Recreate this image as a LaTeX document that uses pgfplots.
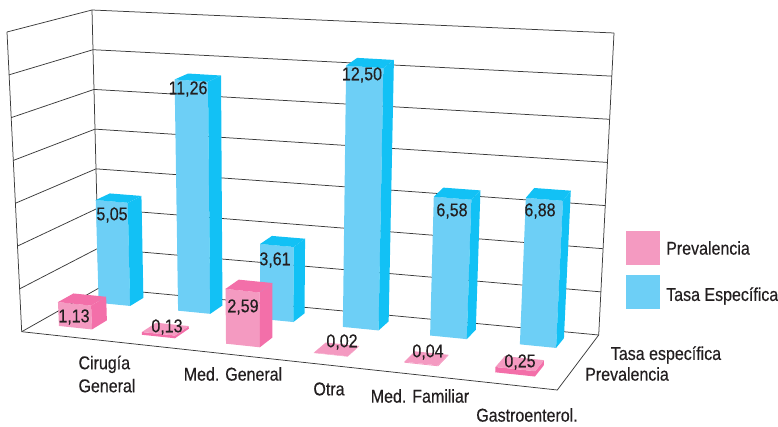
\documentclass[border=0pt]{standalone}
\usepackage{pgfplots}
\pgfplotsset{compat=1.18}
\usepackage{fontspec}
\setmainfont[FakeStretch=0.865,FakeBold=0.35]{Liberation Sans}

\definecolor{ink}{HTML}{231F20}
\definecolor{gridc}{HTML}{3A3A3A}
\definecolor{pinkF}{HTML}{F49AC1}
\definecolor{pinkD}{HTML}{F36FA9}
\definecolor{blueF}{HTML}{6DCFF6}
\definecolor{blueD}{HTML}{12C1F5}

% Box projection: u along the categories, v along the series, z is the value (0--14)
\pgfmathdeclarefunction{bil}{6}{\pgfmathparse{(1-#1)*(1-#2)*#3+#1*(1-#2)*#4+(1-#1)*#2*#5+#1*#2*#6}}
\pgfmathdeclarefunction{px}{3}{\pgfmathparse{(1-#3/14)*bil(#1,#2,21.7,557.3,99,598.7)+(#3/14)*bil(#1,#2,7,573,92,614)}}
\pgfmathdeclarefunction{py}{3}{\pgfmathparse{(1-#3/14)*bil(#1,#2,331.7,390,288,335)+(#3/14)*bil(#1,#2,32,94,10,33)}}

\pgfplotsset{
  boxed/.style={/pgfplots/table/row sep=\\,
    /pgfplots/table/x expr={px(\thisrow{u},\thisrow{v},\thisrow{z})},
    /pgfplots/table/y expr={py(\thisrow{u},\thisrow{v},\thisrow{z})}},
  face/.style={fill=#1, draw=none, forget plot, mark=none},
  rule/.style={draw=gridc, line width=0.75pt, forget plot, mark=none}
}

% #1 #2: u range, #3 #4: v range, #5: value, #6 front, #7 side, #8 top
\newcommand{\columnbar}[8]{%
  \addplot[face=#6] table[boxed] {u v z\\ #1 #3 0\\ #2 #3 0\\ #2 #3 #5\\ #1 #3 #5\\};
  \addplot[face=#7] table[boxed] {u v z\\ #2 #3 0\\ #2 #4 0\\ #2 #4 #5\\ #2 #3 #5\\};
  \addplot[face=#8] table[boxed] {u v z\\ #1 #3 #5\\ #2 #3 #5\\ #2 #4 #5\\ #1 #4 #5\\};
}
\newcommand{\lbl}[3]{\node[text=ink, inner sep=0pt, anchor=center, align=left] at (axis cs:#1,#2) {#3};}

\begin{document}
\begin{tikzpicture}
\begin{axis}[
  scale only axis, width=778pt, height=427pt,
  xmin=0, xmax=778, ymin=0, ymax=427, y dir=reverse,
  hide axis, clip=false,
  nodes={font=\fontsize{18.5}{23}\selectfont}
]
\path (axis cs:0,0) rectangle (axis cs:778,427);

% Walls and floor
\pgfplotsinvokeforeach{0,2,4,6,8,10,12,14}{
  \addplot[rule] table[boxed] {u v z\\ 0 0 #1\\ 0 1 #1\\ 1 1 #1\\};
}
\addplot[rule] table[boxed] {u v z\\ 0 0 0\\ 0 0 14\\};
\addplot[rule] table[boxed] {u v z\\ 0 1 0\\ 0 1 14\\};
\addplot[rule] table[boxed] {u v z\\ 1 1 0\\ 1 1 14\\};
\addplot[rule] table[boxed] {u v z\\ 0 0 0\\ 1 0 0\\ 1 1 0\\};

% Tasa específica (rear row)
\columnbar{.0433}{.105}{.71}{.89}{5.05}{blueF}{blueD}{blueD}
\columnbar{.199}{.262}{.71}{.89}{11.26}{blueF}{blueD}{blueD}
\columnbar{.360}{.425}{.71}{.89}{3.61}{blueF}{blueD}{blueD}
\columnbar{.522}{.592}{.71}{.89}{12.50}{blueF}{blueD}{blueD}
\columnbar{.693}{.765}{.71}{.89}{6.58}{blueF}{blueD}{blueD}
\columnbar{.869}{.940}{.71}{.89}{6.88}{blueF}{blueD}{blueD}

% Prevalencia (front row)
\columnbar{.0431}{.1055}{.187}{.39}{1.13}{pinkF}{pinkD}{pinkD}
\columnbar{.200}{.2625}{.187}{.39}{0.13}{pinkD}{pinkD}{pinkF}
\columnbar{.359}{.423}{.187}{.39}{2.59}{pinkF}{pinkD}{pinkD}
\columnbar{.525}{.589}{.187}{.39}{0.02}{pinkF}{pinkF}{pinkF}
\columnbar{.696}{.760}{.187}{.39}{0.04}{pinkF}{pinkF}{pinkF}
\columnbar{.868}{.943}{.187}{.39}{0.25}{pinkD}{pinkD}{pinkF}

% Value labels
\lbl{112}{215}{5,05}
\lbl{188}{89}{11,26}
\lbl{275}{260}{3,61}
\lbl{362}{75}{12,50}
\lbl{452}{211}{6,58}
\lbl{540}{211}{6,88}
\lbl{74}{317}{1,13}
\lbl{167}{327}{0,13}
\lbl{243}{307}{2,59}
\lbl{342}{342}{0,02}
\lbl{428}{352}{0,04}
\lbl{520}{362}{0,25}

% Category and series names
\lbl{107}{374}{Cirugía\\General}
\lbl{233}{374}{Med. General}
\lbl{329}{389}{Otra}
\lbl{420}{396}{Med. Familiar}
\lbl{527}{415}{Gastroenterol.}
\lbl{666}{355}{Tasa específica}
\lbl{627}{374}{Prevalencia}

% Key
\fill[pinkF] (axis cs:626,231) rectangle (axis cs:660,265);
\fill[blueF] (axis cs:626,275) rectangle (axis cs:660,309);
\node[text=ink, inner sep=0pt, anchor=west] at (axis cs:666,248) {Prevalencia};
\node[overlay, text=ink, inner sep=0pt, anchor=west] at (axis cs:666,296) {Tasa Específica};
\end{axis}
\end{tikzpicture}
\end{document}
